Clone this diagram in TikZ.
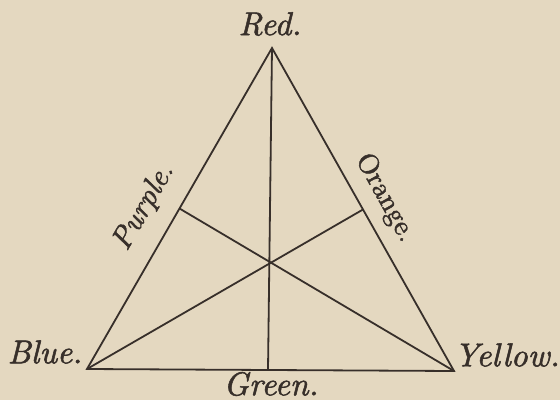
\documentclass[tikz,border=0pt]{standalone}
\usepackage{fontspec}
\newfontfamily\lmheavy{lmroman10-regular.otf}[ItalicFont=lmroman10-italic.otf, FakeBold=1.6]
\usetikzlibrary{calc}
\definecolor{paper}{RGB}{228,216,192}
\definecolor{ink}{RGB}{55,47,42}
\tikzset{
  edge/.style={draw=ink, line width=1.8pt, line join=miter},
  lbl/.style={text=ink, inner sep=0pt, font=\lmheavy\itshape\fontsize{33}{33}\selectfont},
  sidelbl/.style={text=ink, inner sep=0pt, font=\lmheavy\itshape\fontsize{30}{30}\selectfont},
  sidelblup/.style={text=ink, inner sep=0pt, font=\lmheavy\upshape\fontsize{28}{28}\selectfont}
}
\begin{document}
\begin{tikzpicture}[x=1pt,y=-1pt]
\fill[paper] (0,0) rectangle (560,400);
\useasboundingbox (0,0) rectangle (560,400);
\coordinate (R) at (272,48);
\coordinate (B) at (87,369);
\coordinate (Y) at (454,371);
\coordinate (P) at ($(R)!0.5!(B)$);
\coordinate (O) at ($(R)!0.5!(Y)$);
\coordinate (G) at (268,370);
\draw[edge] (R) -- (B) -- (Y) -- cycle;
\draw[edge] (R) -- (G);
\draw[edge] (B) -- (O);
\draw[edge] (Y) -- (P);
\node[lbl] (red) at (270,24) {Red.};
\node[lbl] (blue) at (45,352) {Blue.};
\node[lbl] (yellow) at (507,355) {Yellow.};
\node[lbl] (green) at (271,384) {Green.};
\node[sidelbl, rotate=60] (purple) at (144,207) {Purple.};
\node[sidelblup, rotate=-61] (orange) at (385,198) {Orange.};
\end{tikzpicture}
\end{document}
